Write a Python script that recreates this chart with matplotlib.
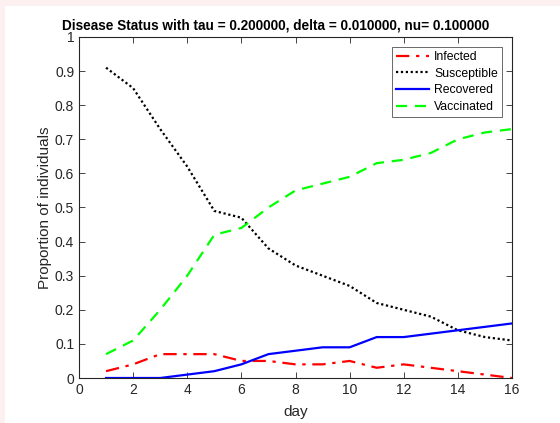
import matplotlib
matplotlib.use("Agg")
import matplotlib.pyplot as plt
from matplotlib.patches import Rectangle

plt.rcParams["font.family"] = ["Liberation Sans", "DejaVu Sans"]

days = list(range(1, 17))
infected = [0.02, 0.04, 0.07, 0.07, 0.07, 0.05, 0.05, 0.04, 0.04, 0.05, 0.03, 0.04, 0.03, 0.02, 0.01, 0.0]
susceptible = [0.91, 0.85, 0.73, 0.62, 0.49, 0.47, 0.38, 0.33, 0.30, 0.27, 0.22, 0.20, 0.18, 0.14, 0.12, 0.11]
recovered = [0.0, 0.0, 0.0, 0.01, 0.02, 0.04, 0.07, 0.08, 0.09, 0.09, 0.12, 0.12, 0.13, 0.14, 0.15, 0.16]
vaccinated = [0.07, 0.11, 0.20, 0.30, 0.42, 0.44, 0.50, 0.55, 0.57, 0.59, 0.63, 0.64, 0.66, 0.70, 0.72, 0.73]

fig = plt.figure(figsize=(5.6, 4.23), dpi=100, facecolor="#fdf0f0")
# white canvas area (page margin is pinkish)
fig.patches.append(Rectangle((5 / 560, 0), 1, 1 - 6 / 423, transform=fig.transFigure,
                             facecolor="white", edgecolor="none", zorder=-10))
ax = fig.add_axes([79 / 560, 1 - 378 / 423, (512 - 79) / 560, (378 - 37) / 423])

ax.plot(days, infected, color="red", linestyle=(0, (6, 3, 1.5, 3)), linewidth=1.6, label="Infected")
ax.plot(days, susceptible, color="black", linestyle=(0, (1, 1.2)), linewidth=1.6, label="Susceptible")
ax.plot(days, recovered, color="blue", linestyle="-", linewidth=1.6, label="Recovered")
ax.plot(days, vaccinated, color="#00ff00", linestyle=(0, (5, 3.5)), linewidth=1.6, label="Vaccinated")

ax.set_xlim(0, 16)
ax.set_ylim(0, 1)
ax.set_xticks(range(0, 17, 2))
ax.set_yticks([i / 10 for i in range(11)])
ax.set_yticklabels(["0", "0.1", "0.2", "0.3", "0.4", "0.5", "0.6", "0.7", "0.8", "0.9", "1"])
ax.tick_params(direction="in", top=True, right=True, labelsize=10, colors="#262626",
               length=4, width=0.6)
for s in ax.spines.values():
    s.set_linewidth(0.8)
    s.set_color("#262626")

ax.set_xlabel("day", fontsize=11, color="#262626", labelpad=6)
ax.set_ylabel("Proportion of individuals", fontsize=11, color="#262626", labelpad=2)
# title sits a bit left of the axes centre in the original
fig.text(275.5 / 560, 1 - 25 / 423,
         "Disease Status with tau = 0.200000, delta = 0.010000, nu= 0.100000",
         fontsize=9.85, fontweight="bold", ha="center", va="center")

leg = ax.legend(loc="upper right", fontsize=8.8, frameon=True, fancybox=False,
                edgecolor="#262626", borderpad=0.35, labelspacing=0.38,
                handlelength=2.7, handletextpad=0.4, borderaxespad=0.8)
leg.get_frame().set_linewidth(0.6)

fig.savefig("out.png", dpi=100, facecolor=fig.get_facecolor())
